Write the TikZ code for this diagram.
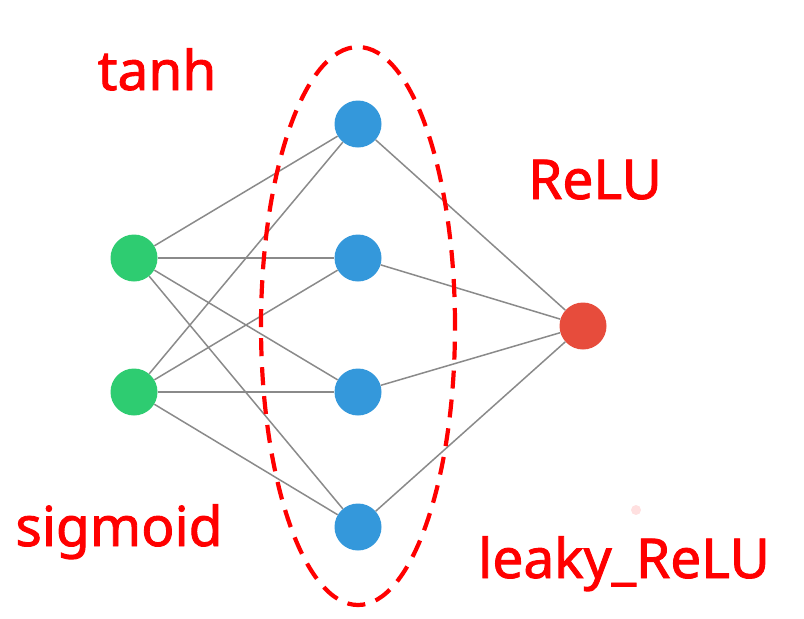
\documentclass[tikz,border=0pt]{standalone}
\usepackage{fontspec}
\setmainfont[FakeBold=1.6]{Noto Sans}
\usetikzlibrary{shapes.geometric}
\definecolor{ingreen}{HTML}{2ECC71}
\definecolor{hidblue}{HTML}{3498DB}
\definecolor{outred}{HTML}{E74C3C}
\definecolor{edgegray}{HTML}{8A8A8A}
\definecolor{labelred}{HTML}{FF0000}
\begin{document}
\begin{tikzpicture}[x=1pt,y=-1pt,
  neuron/.style={circle,minimum size=47pt,inner sep=0pt,draw=none},
  wire/.style={draw=edgegray,line width=1.5pt},
  actlabel/.style={text=labelred,font=\fontsize{55}{57}\selectfont,inner sep=0pt,anchor=base}]
\useasboundingbox (0,0) rectangle (804,619);
% network neurons
\node[neuron,fill=ingreen] (i1) at (134,258) {};
\node[neuron,fill=ingreen] (i2) at (134,392) {};
\node[neuron,fill=hidblue] (h1) at (358,124) {};
\node[neuron,fill=hidblue] (h2) at (358,258) {};
\node[neuron,fill=hidblue] (h3) at (358,392) {};
\node[neuron,fill=hidblue] (h4) at (358,527) {};
\node[neuron,fill=outred] (o) at (583,326) {};
% connections
\foreach \a in {i1,i2}
  \foreach \b in {h1,h2,h3,h4}
    \draw[wire] (\a) -- (\b);
\foreach \b in {h1,h2,h3,h4}
  \draw[wire] (\b) -- (o);
% hidden layer outline
\node[draw=labelred,line width=4.2pt,dash pattern=on 18pt off 11pt,ellipse,minimum width=194pt,minimum height=558pt,inner sep=0pt] (hid) at (358,326) {};
% activation labels
\node[actlabel] (tanh) at (157,90) {tanh};
\node[actlabel] (relu) at (595,199) {ReLU};
\node[actlabel] (sig) at (119,546) {sigmoid};
\node[actlabel] (lrelu) at (624,578) {leaky\_ReLU};
% faint speck
\fill[labelred,opacity=0.12] (636,510) circle (5pt);
\end{tikzpicture}
\end{document}
